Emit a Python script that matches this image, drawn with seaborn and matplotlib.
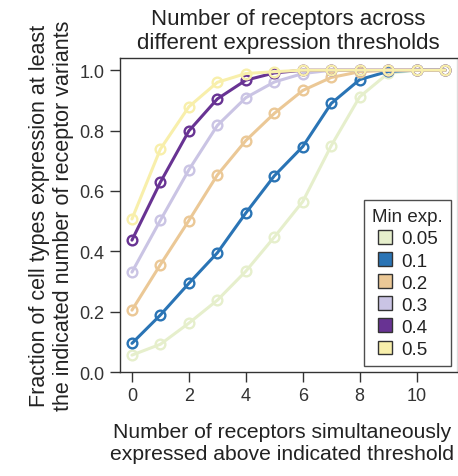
import pandas as pd
import seaborn as sns
import matplotlib.pyplot as plt
from matplotlib.patches import Patch

# receptors simultaneously expressed (x)
n_receptors = list(range(12))
thresholds = ["0.05", "0.1", "0.2", "0.3", "0.4", "0.5"]
colors = ["#e6efcc", "#2a74b5", "#ebc896", "#cac4e4", "#683393", "#f8efab"]

frac_005 = [0.056, 0.092, 0.162, 0.238, 0.334, 0.447, 0.565, 0.75, 0.912, 0.99, 1.0, 1.0]
frac_01 = [0.095, 0.189, 0.294, 0.395, 0.527, 0.65, 0.747, 0.89, 0.969, 0.996, 1.0, 1.0]
frac_02 = [0.205, 0.356, 0.502, 0.653, 0.767, 0.857, 0.933, 0.976, 0.995, 1.0, 1.0, 1.0]
frac_03 = [0.331, 0.503, 0.67, 0.817, 0.909, 0.961, 0.989, 1.0, 1.0, 1.0, 1.0, 1.0]
frac_04 = [0.437, 0.629, 0.799, 0.905, 0.967, 0.991, 1.0, 1.0, 1.0, 1.0, 1.0, 1.0]
frac_05 = [0.507, 0.739, 0.879, 0.96, 0.989, 0.995, 1.0, 1.0, 1.0, 1.0, 1.0, 1.0]


def build_frame():
    series = [frac_005, frac_01, frac_02, frac_03, frac_04, frac_05]
    rows = []
    for thr, vals in zip(thresholds, series):
        for n, v in zip(n_receptors, vals):
            rows.append({"n": n, "frac": v, "Min exp.": thr})
    return pd.DataFrame(rows)


def main():
    df = build_frame()
    sns.set_style("ticks")
    plt.rcParams["font.family"] = ["Liberation Sans", "DejaVu Sans"]

    fig = plt.figure(figsize=(4.58, 4.77), dpi=100)
    ax = fig.add_axes([0.262, 0.218, 0.736, 0.658])

    sns.lineplot(data=df, x="n", y="frac", hue="Min exp.", hue_order=thresholds,
                 palette=colors, marker="o", markersize=7, markerfacecolor="none",
                 markeredgewidth=1.7, linewidth=2.2, legend=False, ax=ax)
    # seaborn paints marker edges white, give them the line colour
    for line in ax.lines:
        line.set_markeredgecolor(line.get_color())

    ax.set_xlim(-0.42, 11.42)
    ax.set_ylim(0, 1.04)
    ax.set_xticks([0, 2, 4, 6, 8, 10])
    ax.set_yticks([0.0, 0.2, 0.4, 0.6, 0.8, 1.0])
    ax.set_yticklabels(["0.0", "0.2", "0.4", "0.6", "0.8", "1.0"])
    ax.tick_params(labelsize=13, length=7, width=1, color="#333333", labelcolor="#333333", pad=4)
    for s in ax.spines.values():
        s.set_color("#333333")
        s.set_linewidth(1)
    ax.spines["right"].set_color("#dddddd")

    ax.set_xlabel("Number of receptors simultaneously\nexpressed above indicated threshold",
                  fontsize=15.2, color="#222222")
    ax.xaxis.set_label_coords(0.48, -0.16, transform=ax.transAxes)
    ax.xaxis.label.set_va("top")
    ax.set_ylabel("Fraction of cell types expression at least\nthe indicated number of receptor variants",
                  fontsize=15.5, labelpad=4, color="#222222")
    ax.set_title("Number of receptors across\ndifferent expression thresholds", fontsize=16,
                 pad=7, color="#222222")

    handles = [Patch(facecolor=c, edgecolor="#333333", label=t) for c, t in zip(colors, thresholds)]
    leg = ax.legend(handles=handles, title="Min exp.", loc="lower right", fontsize=13.5,
                    title_fontsize=13.5, frameon=True, fancybox=False, edgecolor="#222222",
                    handlelength=0.75, handleheight=0.75, handletextpad=0.5,
                    borderaxespad=0.3, labelspacing=0.25, borderpad=0.45)
    leg.get_frame().set_linewidth(1)
    for t in leg.get_texts():
        t.set_color("#222222")

    fig.savefig("out.png", dpi=100)


if __name__ == "__main__":
    main()
